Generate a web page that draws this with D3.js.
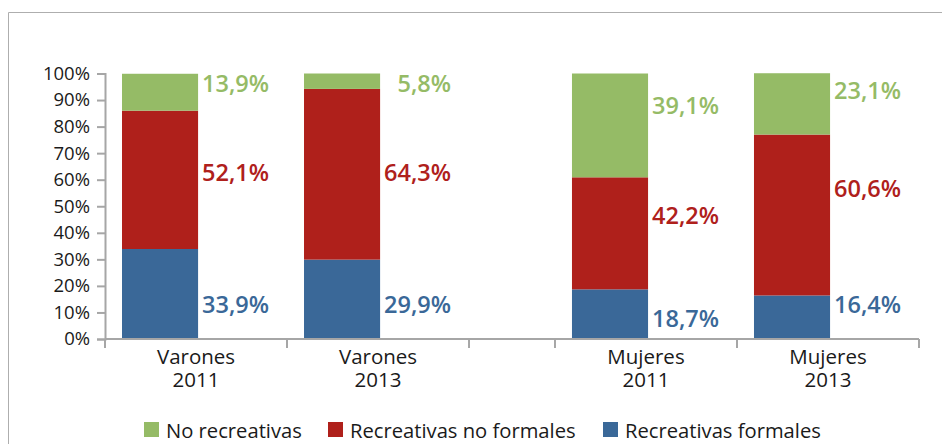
<!DOCTYPE html>
<html>
<head>
<meta charset="utf-8">
<script src="https://cdn.jsdelivr.net/npm/d3@7"></script>
<style>
  html, body { margin: 0; padding: 0; background: #fff; }
  svg { display: block; font-family: "Open Sans", "Noto Sans", sans-serif; }
</style>
</head>
<body>
<svg id="chart" width="942" height="444"></svg>
<script>
// Distribución de actividades (100 % apiladas) por sexo y año
const groups = ["Varones", "Mujeres"];
const years = ["2011", "2013"];
const seriesNames = ["Recreativas formales", "Recreativas no formales", "No recreativas"];
const legendOrder = ["No recreativas", "Recreativas no formales", "Recreativas formales"];

// Valores en el orden: Varones 2011, Varones 2013, Mujeres 2011, Mujeres 2013
const recreativasFormales = [33.9, 29.9, 18.7, 16.4];
const recreativasNoFormales = [52.1, 64.3, 42.2, 60.6];
const noRecreativas = [13.9, 5.8, 39.1, 23.1];

// Altura (en % del eje) a la que se escribe cada etiqueta
const labelLevelFormales = [13.2, 13.2, 7.9, 13.2];
const labelLevelNoFormales = [63, 63, 46.8, 57];
const labelLevelNoRecreativas = [96.6, 96.6, 88.3, 93.6];

const yTicks = [0, 10, 20, 30, 40, 50, 60, 70, 80, 90, 100];

const colors = {
  "Recreativas formales": "#3A6898",
  "Recreativas no formales": "#AF201B",
  "No recreativas": "#95BB66"
};

const svg = d3.select("#chart");

// Marco exterior
svg.append("path")
  .attr("d", "M8.5,444 V12.5 H942")
  .attr("fill", "none")
  .attr("stroke", "#AEAEAE")
  .attr("stroke-width", 1);

const y = d3.scaleLinear().domain([0, 100]).range([339, 73.5]);
const xGroup = d3.scaleBand().domain(groups).range([105, 919]).paddingInner(0.191).paddingOuter(0);
const xYear = d3.scaleBand().domain(years).range([0, xGroup.bandwidth()]).padding(0);

const locale = d3.formatLocale({ decimal: ",", thousands: ".", grouping: [3], currency: ["", "€"] });
const fmt = v => locale.format(".1f")(v) + "%";

// Filas de datos
const rows = [];
groups.forEach((g, gi) => years.forEach((yr, yi) => {
  const i = gi * years.length + yi;
  rows.push({
    group: g, year: yr,
    "Recreativas formales": recreativasFormales[i],
    "Recreativas no formales": recreativasNoFormales[i],
    "No recreativas": noRecreativas[i],
    levels: {
      "Recreativas formales": labelLevelFormales[i],
      "Recreativas no formales": labelLevelNoFormales[i],
      "No recreativas": labelLevelNoRecreativas[i]
    }
  });
}));

const stacked = d3.stack().keys(seriesNames)(rows);

const bw = xYear.bandwidth();
const barOffset = bw * 0.0934;
const barWidth = bw * 0.418;
const bandX = d => xGroup(d.group) + xYear(d.year);

// Barras apiladas
const layers = svg.append("g").selectAll("g")
  .data(stacked).join("g")
  .attr("fill", s => colors[s.key]);

layers.selectAll("rect")
  .data(s => s)
  .join("rect")
  .attr("x", d => bandX(d.data) + barOffset)
  .attr("width", barWidth)
  .attr("y", d => y(d[1]))
  .attr("height", d => y(d[0]) - y(d[1]));

// Etiquetas de valor, alineadas a la derecha junto a cada barra
const labels = svg.append("g");
seriesNames.forEach(key => {
  labels.selectAll(null)
    .data(rows).join("text")
    .attr("x", d => bandX(d) + barOffset + barWidth + 71)
    .attr("y", d => y(d.levels[key]))
    .attr("text-anchor", "end")
    .attr("dominant-baseline", "central")
    .attr("font-size", 23.5)
    .attr("font-weight", 600)
    .attr("fill", colors[key])
    .text(d => fmt(d[key]));
});

// Eje Y
const axisColor = "#A6A6A6";
const yAxis = svg.append("g").attr("transform", "translate(105,0)")
  .call(d3.axisLeft(y).tickValues(yTicks).tickFormat(d => d + "%").tickSize(8).tickPadding(7));
yAxis.select(".domain").attr("stroke", axisColor).attr("stroke-width", 2);
yAxis.selectAll(".tick line").attr("stroke", axisColor).attr("stroke-width", 2);
yAxis.selectAll(".tick text")
  .attr("font-size", 18.5).attr("fill", "#1a1a1a")
  .attr("font-family", "'Open Sans', 'Noto Sans', sans-serif");

// Eje X
const xAxis = svg.append("g");
xAxis.append("line")
  .attr("x1", xGroup.range()[0]).attr("x2", xGroup.range()[1])
  .attr("y1", y(0)).attr("y2", y(0))
  .attr("stroke", axisColor).attr("stroke-width", 2);

const tickXs = [];
groups.forEach(g => {
  years.forEach(yr => tickXs.push(xGroup(g) + xYear(yr)));
  tickXs.push(xGroup(g) + xGroup.bandwidth());
});
xAxis.selectAll(".xt").data(tickXs).join("line")
  .attr("x1", d => d).attr("x2", d => d)
  .attr("y1", y(0)).attr("y2", y(0) + 9)
  .attr("stroke", axisColor).attr("stroke-width", 2);

const catLabels = xAxis.selectAll(".cat").data(rows).join("text")
  .attr("x", d => bandX(d) + bw / 2)
  .attr("y", 357)
  .attr("text-anchor", "middle")
  .attr("font-size", 20.5)
  .attr("fill", "#1a1a1a");
catLabels.append("tspan").attr("x", d => bandX(d) + bw / 2).attr("dy", "0.35em").text(d => d.group);
catLabels.append("tspan").attr("x", d => bandX(d) + bw / 2).attr("dy", 23).text(d => d.year);

// Leyenda
const legendX = [144, 328, 603];
const legend = svg.append("g").selectAll("g")
  .data(legendOrder).join("g")
  .attr("transform", (d, i) => `translate(${legendX[i]},422)`);
legend.append("rect")
  .attr("width", 15).attr("height", 15)
  .attr("fill", d => colors[d]);
legend.append("text")
  .attr("x", 22).attr("y", 7.5)
  .attr("dominant-baseline", "central")
  .attr("font-size", 20.2)
  .attr("fill", "#1a1a1a")
  .text(d => d);
</script>
</body>
</html>
